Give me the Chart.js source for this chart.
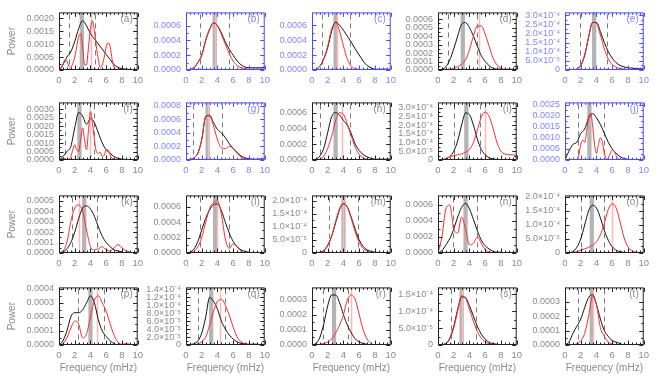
<!DOCTYPE html>
<html>
<head>
<meta charset="utf-8">
<script src="https://cdn.jsdelivr.net/npm/chart.js@4/dist/chart.umd.min.js"></script>
<style>
  html, body { margin: 0; padding: 0; background: #fff; }
  #fig { position: relative; width: 666px; height: 384px; overflow: hidden; }
  #fig canvas { position: absolute; }
</style>
</head>
<body>
<div id="fig"></div>
<script>
/* ── frequency grids (mHz) ── */
const FREQ = [0,0.5,1,1.5,2,2.5,3,3.5,4,4.5,5,5.5,6,6.5,7,7.5,8,8.5,9,9.5,10];
const FREQ_FINE = [0,0.25,0.5,0.75,1,1.25,1.5,1.75,2,2.25,2.5,2.75,3,3.25,3.5,3.75,4,4.25,4.5,4.75,
  5,5.25,5.5,5.75,6,6.25,6.5,6.75,7,7.25,7.5,7.75,8,8.25,8.5,8.75,9,9.25,9.5,9.75,10];
const X_TICKS = [0,2,4,6,8,10];

/* ── power spectra: black = reference, red = comparison ── */
const aBlack = [0,0.0002,0.0005,0.0007,0.0011,0.0016,0.0019,0.0017,0.0014,0.0012,0.001,0.0008,0.0006,0.0004,0.0002,0.0001,0.00005,0.00003,0.00002,0.00001,0];
const aRed = [0,0.00005,0.0002,0.0004,0.00035,0.00015,0.0001,0.00025,0.0005,0.0009,0.0013,0.0014,0.0009,0.0002,0.0002,0.0009,0.0016,0.0019,0.0015,0.0009,
  0.0004,0.0001,0.0002,0.0005,0.0009,0.00105,0.0009,0.0004,0.0001,0.00002,0,0,0,0,0,0,0,0,0,0,0];
const bBlack = [0,0.000005,0.00003,0.0001,0.0002,0.0004,0.00055,0.00064,0.0006,0.0005,0.00038,0.00028,0.0002,0.00012,0.00007,0.00004,0.00003,0.00003,0.00003,0.00003,0.00004];
const bRed = [0,0.000005,0.00003,0.0001,0.0002,0.0004,0.00055,0.00064,0.0006,0.00048,0.00035,0.00022,0.00012,0.00006,0.00003,0.00002,0.00001,0.00001,0.00001,0.00001,0.00002];
const cBlack = [0,0.00001,0.00005,0.00015,0.0003,0.00052,0.00064,0.0006,0.00053,0.00045,0.00037,0.00028,0.0002,0.00012,0.00006,0.00003,0.00001,0.00001,0.00001,0.00001,0];
const cRed = [0,0.00001,0.00005,0.00015,0.00032,0.00055,0.00063,0.00052,0.00032,0.00014,0.00005,0.00002,0.00001,0,0,0,0,0,0.00001,0.00001,0.00001];
const dBlack = [0,0.00001,0.00004,0.00012,0.00025,0.0004,0.00054,0.00056,0.0005,0.0004,0.00028,0.00017,0.0001,0.00005,0.00002,0.00001,0.00001,0,0,0,0];
const dRed = [0,0,0,0.00001,0.00002,0.00004,0.00007,0.00012,0.00024,0.0004,0.00052,0.00052,0.00042,0.00028,0.00014,0.00006,0.00002,0.00001,0.00001,0.00001,0.00001];
const eBlack = [0,0,0.000001,0.000005,0.000025,0.00008,0.00018,0.00026,0.00026,0.00021,0.00015,0.0001,0.000065,0.00004,0.000025,0.000017,0.000012,0.00001,0.000008,0.000007,0.000006];
const eRed = [0,0,0.000001,0.000005,0.000025,0.00008,0.00018,0.00026,0.000255,0.00019,0.000115,0.00006,0.00003,0.000015,0.000008,0.000005,0.000003,0.000003,0.000002,0.000002,0.000002];
const fBlack = [0,0.0002,0.0005,0.0008,0.0019,0.0028,0.0026,0.0021,0.00245,0.0022,0.0016,0.001,0.0006,0.0004,0.0002,0.0001,0.00005,0.00003,0.00002,0.00001,0];
const fRed = [0,0.00005,0.0001,0.00008,0.00003,0.00005,0.0002,0.0006,0.0009,0.0006,0.0005,0.0012,0.0019,0.0012,0.0006,0.0018,0.00285,0.0022,0.0012,0.0005,
  0.0004,0.00045,0.0002,0.0003,0.0006,0.0006,0.0003,0.0001,0.00005,0,0,0,0,0,0,0,0,0,0,0,0];
const gBlack = [0,0.000005,0.00003,0.0001,0.0003,0.00064,0.00066,0.00055,0.00045,0.0004,0.00033,0.00024,0.00017,0.00011,0.00006,0.00003,0.00002,0.00001,0.00001,0.00001,0.00001];
const gRed = [0,0.000005,0.00003,0.0001,0.0003,0.00064,0.00065,0.0005,0.0003,0.00018,0.00017,0.0002,0.00017,0.0001,0.00004,0.00002,0.00001,0.00001,0.00001,0.00002,0.00003];
const hBlack = [0,0.00001,0.00005,0.00015,0.00035,0.00055,0.0006,0.00057,0.0005,0.00044,0.00033,0.0002,0.00012,0.00007,0.00004,0.00002,0.00001,0.00001,0.00001,0.00001,0.00001];
const hRed = [0,0,0.00001,0.00005,0.00015,0.0003,0.0005,0.0006,0.00058,0.00045,0.0003,0.00016,0.00007,0.00003,0.00001,0,0,0,0,0,0];
const iBlack = [0,0.000001,0.000005,0.00002,0.00005,0.00011,0.0002,0.00027,0.00026,0.0002,0.00012,0.00006,0.00003,0.000013,0.000006,0.000003,0.000002,0.000001,0,0,0];
const iRed = [0,0.000002,0.000008,0.000018,0.000025,0.00003,0.000035,0.000045,0.00006,0.0001,0.00017,0.000245,0.000275,0.00025,0.00018,0.0001,0.00005,0.000035,0.00003,0.00003,0.000025];
const jBlack = [0,0.0004,0.0007,0.0008,0.0012,0.0014,0.0019,0.0021,0.0019,0.0016,0.0012,0.0008,0.0005,0.0003,0.00015,0.00007,0.00003,0.00001,0.00001,0,0];
const jRed = [0,0,0,0,0,0,0,0.0002,0.0007,0.0009,0.0008,0.0013,0.0019,0.0021,0.0016,0.0007,0.0003,0.0007,0.001,0.0008,
  0.0003,0.00005,0.0001,0.0003,0.00045,0.0004,0.0002,0.00005,0,0,0,0,0,0,0,0,0,0,0,0,0];
const kBlack = [0,0.00001,0.00004,0.0001,0.0002,0.00033,0.00043,0.00045,0.00042,0.00035,0.00025,0.00016,0.0001,0.00006,0.00003,0.00002,0.00001,0,0,0,0];
const kRed = [0,0.00002,0.0001,0.0003,0.00043,0.00046,0.0004,0.00022,0.00006,0.00003,0.00004,0.00006,0.00003,0.00002,0.00005,0.00008,0.00005,0.00002,0.00001,0,0];
const lBlack = [0,0.00001,0.00005,0.00015,0.0003,0.00045,0.00056,0.00063,0.00064,0.00055,0.0004,0.00026,0.00015,0.00008,0.00004,0.00002,0.00001,0,0,0,0];
const lRed = [0,0,0.00002,0.00008,0.0002,0.0004,0.00058,0.00066,0.00068,0.0005,0.00018,0.00006,0.00012,0.00008,0.00002,0,0,0,0,0,0];
const mBlack = [0,0.000001,0.000003,0.00001,0.00003,0.000065,0.000115,0.000165,0.000188,0.000175,0.000135,0.00009,0.00005,0.000025,0.000012,0.000006,0.000003,0.000002,0.000001,0,0];
const mRed = [0,0,0.000002,0.000008,0.000028,0.000065,0.00012,0.00017,0.00019,0.000175,0.00013,0.00008,0.00004,0.000018,0.000007,0.000003,0.000002,0.000001,0,0,0];
const nBlack = [0,0.00003,0.0001,0.00018,0.0003,0.00045,0.00057,0.00062,0.00055,0.00042,0.00028,0.00016,0.00009,0.00005,0.00002,0.00001,0.00001,0,0,0,0];
const nRed = [0,0.0002,0.00055,0.0006,0.0003,0.00025,0.00045,0.0003,0.0001,0.00012,0.0002,0.00012,0.00004,0.00001,0,0,0,0,0,0,0];
const oBlack = [0,0.000001,0.000005,0.00002,0.00005,0.0001,0.00015,0.00017,0.00016,0.000125,0.00008,0.000045,0.000022,0.00001,0.000005,0.000002,0.000001,0,0,0,0];
const oRed = [0,0.000001,0.000002,0.000005,0.00001,0.000015,0.00002,0.000028,0.00004,0.000065,0.000105,0.000155,0.000175,0.00016,0.00011,0.000055,0.000022,0.000008,0.000003,0.000002,0.000001];
const pBlack = [0,0.00003,0.0001,0.0002,0.00023,0.00023,0.00025,0.0003,0.00035,0.0003,0.00018,0.0001,0.00006,0.00003,0.00001,0,0,0,0,0,0];
const pRed = [0,0.00001,0.00005,0.00012,0.00017,0.00015,0.00005,0.00008,0.0002,0.00032,0.00035,0.0003,0.00024,0.00015,0.00007,0.00002,0.000005,0.00001,0.000005,0,0];
const qBlack = [0,0.000001,0.000003,0.00001,0.00003,0.00007,0.00012,0.00011,0.00009,0.00006,0.00004,0.000025,0.000015,0.000008,0.000004,0.000003,0.000002,0.000002,0.000002,0.000001,0.000001];
const qRed = [0,0,0.000001,0.000003,0.000008,0.00002,0.00005,0.000085,0.00011,0.000115,0.0001,0.000075,0.000045,0.00002,0.000008,0.000003,0.000001,0,0,0,0];
const rBlack = [0,0.00001,0.00005,0.00014,0.00026,0.00033,0.00033,0.00028,0.0002,0.00013,0.00008,0.00004,0.00002,0.00001,0.000005,0,0,0,0,0,0];
const rRed = [0,0,0.000005,0.00001,0.00002,0.00004,0.00008,0.00013,0.0002,0.0003,0.00033,0.0003,0.0002,0.0001,0.00004,0.00001,0,0,0,0,0];
const sBlack = [0,0.000001,0.000005,0.00002,0.000055,0.000105,0.000142,0.00014,0.000115,0.000085,0.000055,0.000032,0.000017,0.000008,0.000004,0.000002,0.000001,0,0,0,0];
const sRed = [0,0.000001,0.000004,0.000018,0.00005,0.0001,0.000145,0.000138,0.000105,0.00007,0.00004,0.00002,0.000009,0.000004,0.000001,0,0,0,0,0,0];
const tBlack = [0,0.00002,0.00008,0.00013,0.00018,0.00026,0.00033,0.00035,0.00028,0.00018,0.0001,0.00006,0.00003,0.00002,0.00001,0,0,0,0,0,0];
const tRed = [0,0,0,0.00001,0.00003,0.00008,0.0002,0.00034,0.00028,0.00012,0.00006,0.00002,0.00001,0,0,0,0,0,0,0,0];

/* ── per-panel markers (mHz) and y ranges, in panel order a..t ── */
const PANEL_IDS = ['a','b','c','d','e','f','g','h','i','j','k','l','m','n','o','p','q','r','s','t'];
const BAND_FREQ = [2.9,3.65,3.0,3.15,3.7, 2.6,2.75,3.0,3.6,3.1, 3.2,3.7,4.0,3.5,3.4, 4.0,3.2,2.8,3.0,3.4];
const DASH_LOW  = [1.3,1.8,1.3,1.3,1.9, 0.8,0.85,1.0,2.0,1.7, 1.6,1.8,2.2,1.9,2.0, 2.4,1.5,1.4,1.7,1.6];
const DASH_HIGH = [4.6,5.4,4.85,4.9,5.3, 4.5,4.6,4.8,5.3,4.9, 4.8,5.4,5.8,5.0,5.0, 5.7,5.0,4.6,4.8,5.0];
const RED_FREQ  = [4.1,3.65,3.2,5.2,null, 4.0,2.8,3.75,6.0,null, 2.5,4.0,4.0,null,6.0, 4.8,4.3,5.0,3.0,3.5];
const Y_MAX = [0.00222,0.00078,0.00077,0.00068,0.000315, 0.0034,0.00085,0.00073,0.00033,0.0026,
  0.00055,0.00075,0.00022,0.00072,0.000205, 0.00041,0.000145,0.00038,0.00017,0.0004];
const Y_TICKS = [
  [0,0.0005,0.001,0.0015,0.002], [0,0.0002,0.0004,0.0006], [0,0.0002,0.0004,0.0006],
  [0,0.0001,0.0002,0.0003,0.0004,0.0005,0.0006], [0,5e-5,1e-4,1.5e-4,2e-4,2.5e-4,3e-4],
  [0,0.0005,0.001,0.0015,0.002,0.0025,0.003], [0,0.0002,0.0004,0.0006,0.0008], [0,0.0002,0.0004,0.0006],
  [0,5e-5,1e-4,1.5e-4,2e-4,2.5e-4,3e-4], [0,0.0005,0.001,0.0015,0.002,0.0025],
  [0,0.0001,0.0002,0.0003,0.0004,0.0005], [0,0.0002,0.0004,0.0006], [0,5e-5,1e-4,1.5e-4,2e-4],
  [0,0.0002,0.0004,0.0006], [0,5e-5,1e-4,1.5e-4,2e-4],
  [0,0.0001,0.0002,0.0003,0.0004], [0,2e-5,4e-5,6e-5,8e-5,1e-4,1.2e-4,1.4e-4], [0,0.0001,0.0002,0.0003],
  [0,5e-5,1e-4,1.5e-4], [0,0.0001,0.0002,0.0003]
];
const SCI_PANELS = ['e','i','m','o','q','s'];
const BLUE_PANELS = ['b','c','e','g','j'];

const SERIES = {
  a: [aBlack, aRed, FREQ_FINE], b: [bBlack, bRed, FREQ], c: [cBlack, cRed, FREQ], d: [dBlack, dRed, FREQ],
  e: [eBlack, eRed, FREQ], f: [fBlack, fRed, FREQ_FINE], g: [gBlack, gRed, FREQ], h: [hBlack, hRed, FREQ],
  i: [iBlack, iRed, FREQ], j: [jBlack, jRed, FREQ_FINE], k: [kBlack, kRed, FREQ], l: [lBlack, lRed, FREQ],
  m: [mBlack, mRed, FREQ], n: [nBlack, nRed, FREQ], o: [oBlack, oRed, FREQ], p: [pBlack, pRed, FREQ],
  q: [qBlack, qRed, FREQ], r: [rBlack, rRed, FREQ], s: [sBlack, sRed, FREQ], t: [tBlack, tRed, FREQ]
};

/* ── layout ── */
const COL_LEFT = [59, 186, 312, 438, 565];
const ROW_TOP = [9, 99, 192, 284];
const BOX_W = 80, BOX_H = 61;
const PAD_L = 59, PAD_T = 7, PAD_R = 9;
const FONT = "'Liberation Sans', Arial, sans-serif";

const SUP = { '-': '\u207B', '0': '\u2070', '1': '\u00B9', '2': '\u00B2', '3': '\u00B3', '4': '\u2074', '5': '\u2075', '6': '\u2076' };
function sciLabel(v) {
  if (v === 0) return '0';
  const e = Math.floor(Math.log10(v) + 1e-9);
  const m = v / Math.pow(10, e);
  return m.toFixed(1) + '\u00D710' + String(e).split('').map(ch => SUP[ch]).join('');
}

const panelDecor = {
  id: 'panelDecor',
  beforeDatasetsDraw(chart, args, o) {
    const { ctx, chartArea: ca, scales: { x } } = chart;
    ctx.save();
    ctx.beginPath();
    ctx.rect(ca.left, ca.top, ca.right - ca.left, ca.bottom - ca.top);
    ctx.clip();
    const b0 = x.getPixelForValue(o.band - 0.27), b1 = x.getPixelForValue(o.band + 0.27);
    ctx.fillStyle = '#b4b4b4';
    ctx.fillRect(b0, ca.top, b1 - b0, ca.bottom - ca.top);
    if (o.red != null) {
      const rx = Math.round(x.getPixelForValue(o.red)) + 0.5;
      ctx.strokeStyle = '#ffb8b8';
      ctx.lineWidth = 1.5;
      ctx.beginPath(); ctx.moveTo(rx, ca.top); ctx.lineTo(rx, ca.bottom); ctx.stroke();
    }
    ctx.strokeStyle = '#7a7a7a';
    ctx.lineWidth = 1;
    ctx.setLineDash([5, 4]);
    [o.lo, o.hi].forEach(f => {
      const dx = Math.round(x.getPixelForValue(f)) + 0.5;
      ctx.beginPath(); ctx.moveTo(dx, ca.top + 2); ctx.lineTo(dx, ca.bottom); ctx.stroke();
    });
    ctx.restore();
  },
  afterDatasetsDraw(chart, args, o) {
    const { ctx, chartArea: ca, scales: { x, y } } = chart;
    ctx.save();
    ctx.strokeStyle = o.frame;
    ctx.lineWidth = 1;
    const L = ca.left + 0.5, R = ca.right - 0.5, T = ca.top + 0.5, B = ca.bottom - 0.5;
    ctx.strokeRect(L, T, R - L, B - T);
    ctx.beginPath();
    for (let f = 0; f <= 10.001; f += 0.5) {
      const px = Math.round(x.getPixelForValue(f)) + 0.5;
      const len = (Math.abs(f % 2) < 1e-6) ? 4 : 2;
      ctx.moveTo(px, B); ctx.lineTo(px, B - len);
      ctx.moveTo(px, T); ctx.lineTo(px, T + len);
    }
    o.yticks.forEach((v, i) => {
      const py = Math.round(y.getPixelForValue(v)) + 0.5;
      ctx.moveTo(L, py); ctx.lineTo(L + 4, py);
      ctx.moveTo(R, py); ctx.lineTo(R - 4, py);
      if (i < o.yticks.length - 1) {
        const my = Math.round(y.getPixelForValue((v + o.yticks[i + 1]) / 2)) + 0.5;
        ctx.moveTo(L, my); ctx.lineTo(L + 2, my);
        ctx.moveTo(R, my); ctx.lineTo(R - 2, my);
      }
    });
    ctx.stroke();
    ctx.fillStyle = o.text;
    ctx.font = '10px ' + FONT;
    ctx.textAlign = 'right';
    ctx.textBaseline = 'middle';
    ctx.fillText('(' + o.id + ')', ca.right - 5, ca.top + 7);
    ctx.restore();
  }
};

const fig = document.getElementById('fig');

PANEL_IDS.forEach((id, i) => {
  const r = Math.floor(i / 5), c = i % 5;
  const blue = BLUE_PANELS.includes(id);
  const sci = SCI_PANELS.includes(id);
  const textColor = blue ? '#8585ff' : '#8a8a8a';
  const frameColor = blue ? '#4a4aff' : '#222';
  const [black, red, freq] = SERIES[id];
  const yticks = Y_TICKS[i];
  const xAxisH = r === 3 ? 29 : 18;

  const cv = document.createElement('canvas');
  const w = PAD_L + BOX_W + PAD_R, h = PAD_T + BOX_H + xAxisH;
  cv.width = w; cv.height = h;
  cv.style.width = w + 'px'; cv.style.height = h + 'px';
  cv.style.left = (COL_LEFT[c] - PAD_L) + 'px';
  cv.style.top = (ROW_TOP[r] - PAD_T) + 'px';
  fig.appendChild(cv);

  new Chart(cv, {
    type: 'line',
    data: {
      datasets: [
        { data: freq.map((f, k) => ({ x: f, y: red[k] })), borderColor: '#ff2a2a' },
        { data: FREQ.map((f, k) => ({ x: f, y: black[k] })), borderColor: '#111' }
      ]
    },
    options: {
      responsive: false,
      animation: false,
      devicePixelRatio: 1,
      layout: { padding: { left: 0, top: PAD_T, right: PAD_R, bottom: 0 } },
      elements: {
        line: { borderWidth: 1, fill: false, cubicInterpolationMode: 'monotone' },
        point: { radius: 0 }
      },
      plugins: {
        legend: { display: false },
        tooltip: { enabled: false },
        panelDecor: { id, band: BAND_FREQ[i], lo: DASH_LOW[i], hi: DASH_HIGH[i], red: RED_FREQ[i],
                      yticks, frame: frameColor, text: textColor }
      },
      scales: {
        x: {
          type: 'linear', min: 0, max: 10,
          grid: { display: false, drawTicks: false },
          border: { display: false },
          afterBuildTicks: s => { s.ticks = X_TICKS.map(v => ({ value: v })); },
          afterFit: s => { s.height = xAxisH; },
          ticks: { color: textColor, font: { size: 9.5, family: FONT }, padding: 5, maxRotation: 0, autoSkip: false,
                   callback: v => String(v) },
          title: { display: r === 3, text: 'Frequency (mHz)', color: '#8a8a8a',
                   font: { size: 10, family: FONT }, padding: { top: 0, bottom: 0 } }
        },
        y: {
          min: 0, max: Y_MAX[i],
          grid: { display: false, drawTicks: false },
          border: { display: false },
          afterBuildTicks: s => { s.ticks = yticks.map(v => ({ value: v })); },
          afterFit: s => { s.width = PAD_L; },
          ticks: { color: textColor, font: { size: 9, family: FONT }, padding: 5, autoSkip: false,
                   callback: v => sci ? sciLabel(v) : v.toFixed(4) },
          title: { display: c === 0, text: 'Power', color: '#8a8a8a',
                   font: { size: 10, family: FONT }, padding: { top: 6, bottom: 0 } }
        }
      }
    },
    plugins: [panelDecor]
  });
});
</script>
</body>
</html>
